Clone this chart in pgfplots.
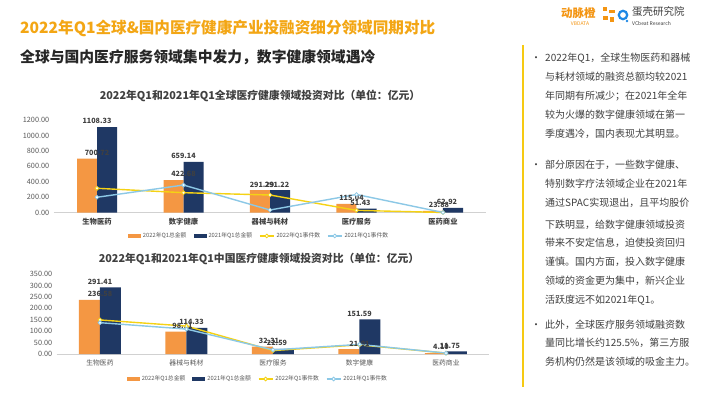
\documentclass[border=0pt]{standalone}
\usepackage{pgfplots}
\pgfplotsset{compat=1.18}
\usepackage{fontspec}
\setmainfont{Noto Sans CJK SC}
\definecolor{barorange}{RGB}{244,151,67}
\definecolor{barnavy}{RGB}{31,56,100}
\definecolor{lnyellow}{RGB}{245,210,20}
\definecolor{lnblue}{RGB}{140,200,230}
\definecolor{titleorange}{RGB}{243,166,20}
\definecolor{txtgray}{RGB}{64,64,64}
\definecolor{tickgray}{RGB}{89,89,89}
\definecolor{logoblue}{RGB}{30,136,229}
\pgfplotsset{
  mybar/.style={ybar, bar width=20pt, draw=none, fill=#1,
    visualization depends on={value \thisrow{dx} \as \labdx},
    nodes near coords={\pgfmathprintnumber[fixed,fixed zerofill,precision=2,1000 sep={}]{\pgfplotspointmeta}},
    every node near coord/.append style={font=\bfseries\fontsize{7.2}{8}\selectfont, text=txtgray, inner sep=1pt, xshift=\labdx pt, yshift=1.8pt},
    legend image code/.code={\fill[##1] (0pt,-1.7pt) rectangle (13pt,1.7pt);}},
  myline/.style={sharp plot, line width=1.4pt, color=#1, mark=*, mark size=1.9pt,
    mark options={fill=white, draw=#1, solid, line width=0.8pt},
    legend image code/.code={\draw[##1,mark repeat=2,mark phase=2] plot coordinates {(0pt,0pt) (7pt,0pt) (14pt,0pt)};}},
  mychart/.style={scale only axis, anchor=south west, width=432.5pt,
    xmin=-0.5, xmax=4.5, ymin=0, clip=false,
    axis lines*=left, x axis line style={-, draw=black!18, line width=0.8pt},
    y axis line style={draw=none}, major tick length=0pt,
    xtick={0,...,4},
    /pgf/number format/assume math mode=true,
    yticklabel={\pgfmathprintnumber[fixed,fixed zerofill,precision=2,1000 sep={}]{\tick}},
    yticklabel style={font=\fontsize{7.3}{8}\selectfont, text=tickgray, xshift=-1pt},
    legend columns=4,
    legend style={draw=none, fill=none, font=\fontsize{5.8}{7}\selectfont, text=tickgray,
      anchor=center, /tikz/every even column/.append style={column sep=5pt},
      inner sep=0pt, outer sep=0pt},
    legend cell align=left}
}
\begin{document}
\begin{tikzpicture}
\begin{scope}[x=1pt,y=1pt]
\fill[white] (0,0) rectangle (710,399);
% header
\node[anchor=west, text=titleorange, font=\bfseries\fontsize{15.6}{18}\selectfont, inner sep=0pt] at (20,371) {2022年Q1全球\&国内医疗健康产业投融资细分领域同期对比};
\node[anchor=west, text=black!85, font=\bfseries\fontsize{14.8}{17}\selectfont, inner sep=0pt] at (20,342) {全球与国内医疗服务领域集中发力，数字健康领域遇冷};
% logo
\node[anchor=west, text=titleorange!90!red, font=\bfseries\fontsize{11.5}{12}\selectfont, inner sep=0pt] at (561,386) {动脉橙};
\node[text=titleorange!90!red, font=\fontsize{5}{6}\selectfont, inner sep=0pt] at (580,375.5) {VBDATA};
\fill[titleorange!90!red] (603,388) rectangle (607,392);
\fill[titleorange!90!red] (609,386) rectangle (615,389);
\fill[titleorange!90!red] (603,379) rectangle (608,383);
\fill[titleorange!90!red] (610,377) rectangle (614,382);
\draw[logoblue, line width=2.2pt] (623,384) circle (4.2pt);
\fill[logoblue] (627,378) circle (1.3pt);
\node[anchor=west, text=txtgray, font=\fontsize{10.5}{12}\selectfont, inner sep=0pt] at (632,387) {蛋壳研究院};
\node[anchor=west, text=txtgray, font=\fontsize{5}{6}\selectfont, inner sep=0pt] at (632,375.5) {VCbeat Research};
% right column
\draw[lnyellow!90!orange, line width=1.3pt] (523,354) -- (523,12);
\begin{scope}[every node/.style={anchor=base west, inner sep=0pt, text=txtgray, font=\fontsize{10}{12}\selectfont}]
\node at (531,337.5) {•};
\node at (545,337.5) {2022年Q1，全球生物医药和器械};
\node at (545,318.5) {与耗材领域的融资总额均较2021};
\node at (545,299) {年同期有所减少；在2021年全年};
\node at (545,280.5) {较为火爆的数字健康领域在第一};
\node at (545,261.5) {季度遇冷，国内表现尤其明显。};
\node at (531,230.5) {•};
\node at (545,230.5) {部分原因在于，一些数字健康、};
\node at (545,211.5) {特别数字疗法领域企业在2021年};
\node at (545,192.5) {通过SPAC实现退出，且平均股价};
\node at (545,170.5) {下跌明显，给数字健康领域投资};
\node at (545,152) {带来不安定信息，迫使投资回归};
\node at (545,133) {谨慎。国内方面，投入数字健康};
\node at (545,114.5) {领域的资金更为集中，新兴企业};
\node at (545,95.5) {活跃度远不如2021年Q1。};
\node at (531,70.5) {•};
\node at (545,70.5) {此外，全球医疗服务领域融资数};
\node at (545,52) {量同比增长约125.5\%，第三方服};
\node at (545,33.5) {务机构仍然是该领域的吸金主力。};
\end{scope}
% chart titles
\node[text=txtgray, font=\bfseries\fontsize{10.8}{12}\selectfont, inner sep=0pt] at (260,303) {2022年Q1和2021年Q1全球医疗健康领域投资对比（单位：亿元）};
\node[text=txtgray, font=\bfseries\fontsize{10.8}{12}\selectfont, inner sep=0pt] at (259,140) {2022年Q1和2021年Q1中国医疗健康领域投资对比（单位：亿元）};
\end{scope}
% chart 1
\begin{axis}[mychart, at={(53.75pt,186.3pt)}, height=92.7pt, ymax=1200,
  ytick={0,200,...,1200},
  xticklabels={生物医药,数字健康,器械与耗材,医疗服务,医药商业},
  xticklabel style={font=\bfseries\fontsize{7.3}{8}\selectfont, text=txtgray, yshift=-2pt},
  legend style={at={(0.4746,-0.251)}}]
\addplot[mybar=barorange, bar shift=-10pt] table[x=x,y=y] {
x y dx
0 700.72 0
1 422.68 0
2 291.29 -8
3 115.04 -5
4 23.88 -4
};
\addplot[mybar=barnavy, bar shift=10pt] table[x=x,y=y] {
x y dx
0 1108.33 0
1 659.14 0
2 291.22 7
3 51.43 4
4 62.92 4
};
\addplot[myline=lnyellow] coordinates {(0,316) (1,259) (2,229) (3,30) (4,3)};
\addplot[myline=lnblue] coordinates {(0,200) (1,358) (2,35) (3,236) (4,3)};
\legend{2022年Q1总金额,2021年Q1总金额,2022年Q1事件数,2021年Q1事件数}
\end{axis}
% chart 2
\begin{axis}[mychart, at={(56.75pt,45pt)}, height=80pt, ymax=350,
  ytick={0,50,...,350},
  xticklabels={生物医药,器械与耗材,医疗服务,数字健康,医药商业},
  xticklabel style={font=\fontsize{6.8}{8}\selectfont, text=tickgray, yshift=-2pt},
  legend style={at={(0.465,-0.3125)}}]
\addplot[mybar=barorange, bar shift=-10.5pt, bar width=21pt] table[x=x,y=y] {
x y dx
0 236.58 0
1 98.11 -4
2 32.31 -4
3 21.01 0
4 4.10 -5
};
\addplot[mybar=barnavy, bar shift=10.5pt, bar width=21pt] table[x=x,y=y] {
x y dx
0 291.41 0
1 114.33 5
2 22.59 4
3 151.59 0
4 11.75 4
};
\addplot[myline=lnyellow] coordinates {(0,149) (1,122) (2,15) (3,40) (4,4)};
\addplot[myline=lnblue] coordinates {(0,137) (1,109) (2,18) (3,42) (4,4)};
\legend{2022年Q1总金额,2021年Q1总金额,2022年Q1事件数,2021年Q1事件数}
\end{axis}
\pgfresetboundingbox
\path[use as bounding box] (0pt,0pt) rectangle (710pt,399pt);
\end{tikzpicture}
\end{document}
